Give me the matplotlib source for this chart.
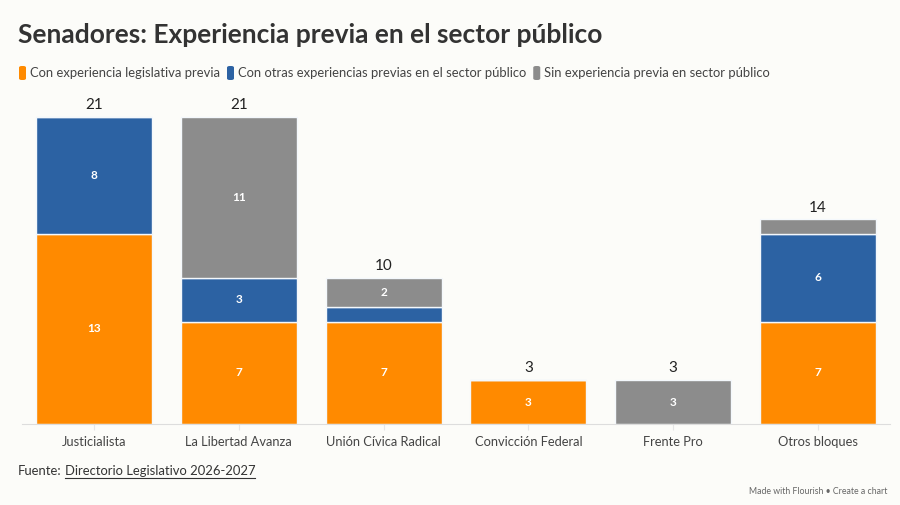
import numpy as np
import matplotlib
matplotlib.use("Agg")
import matplotlib.pyplot as plt
from matplotlib.patches import FancyBboxPatch

plt.rcParams['font.family'] = ['Lato', 'DejaVu Sans']

bloques = ['Justicialista', 'La Libertad Avanza', 'Unión Cívica Radical',
           'Convicción Federal', 'Frente Pro', 'Otros bloques']
legislativa = [13, 7, 7, 3, 0, 7]
otras = [8, 3, 1, 0, 0, 6]
sin_exp = [0, 11, 2, 0, 3, 1]

series = ['Con experiencia legislativa previa',
          'Con otras experiencias previas en el sector público',
          'Sin experiencia previa en sector público']
colores = ['#ff8a00', '#2c62a3', '#8c8c8c']
bg = '#fcfcf9'

fig = plt.figure(figsize=(9, 5.05), dpi=100, facecolor=bg)
ax = fig.add_axes([0.0239, 0.1604, 0.9655, 0.6516])
ax.set_facecolor(bg)

x = np.arange(len(bloques))
bottom = np.zeros(len(bloques))
for vals, col in zip([legislativa, otras, sin_exp], colores):
    vals = np.array(vals)
    ax.bar(x, vals, 0.8, bottom=bottom, color=col, edgecolor='#f4f8fc', linewidth=1)
    for xi, v, b in zip(x, vals, bottom):
        if v >= 2:
            ax.text(xi, b + v / 2, str(v), ha='center', va='center',
                    color='white', fontsize=8.5, fontweight='bold')
    bottom = bottom + vals

for xi, tot in zip(x, bottom):
    ax.text(xi, tot + 0.8, str(int(tot)), ha='center', va='center',
            fontsize=11, color='#222222')

ax.set_xlim(-0.5, len(bloques) - 0.5)
ax.set_ylim(0, 22.5)
ax.set_yticks([])
ax.set_xticks(x)
ax.set_xticklabels(bloques, fontsize=9.3, color='#444444')
ax.tick_params(axis='x', length=4, color='#e6e6e6', pad=5)
for s in ['top', 'right', 'left']:
    ax.spines[s].set_visible(False)
ax.spines['bottom'].set_color('#dddddd')

fig.text(18 / 900, 1 - 35 / 505, 'Senadores: Experiencia previa en el sector público',
         fontsize=19, fontweight='bold', color='#333333', va='center', ha='left')

# leyenda
fig.canvas.draw()
r = fig.canvas.get_renderer()
lx = 19
for lab, col in zip(series, colores):
    fig.patches.append(FancyBboxPatch((lx / 900, 1 - 80 / 505), 7 / 900, 14 / 505,
                                      boxstyle='round,pad=0,rounding_size=0.003',
                                      transform=fig.transFigure, facecolor=col,
                                      edgecolor='none'))
    t = fig.text((lx + 11) / 900, 1 - 73 / 505, lab, fontsize=9.35, color='#444444',
                 va='center', ha='left')
    w = t.get_window_extent(r).width
    lx = lx + 11 + w + 7

f = fig.text(18 / 900, 1 - 471 / 505, 'Fuente:', fontsize=9.4, color='#333333',
             va='center', ha='left')
fx = f.get_window_extent(r).x1 + 3
link = fig.text(fx / 900, 1 - 471 / 505, 'Directorio Legislativo 2026-2027', fontsize=9.4,
                color='#333333', va='center', ha='left')
bb = link.get_window_extent(r)
fig.add_artist(plt.Line2D([bb.x0 / 900, bb.x1 / 900], [(bb.y0 - 1) / 505] * 2,
                          transform=fig.transFigure, color='#333333', linewidth=0.8))

fig.text(887 / 900, 1 - 492 / 505, 'Made with Flourish • Create a chart', fontsize=6.3,
         color='#666666', va='center', ha='right')

fig.savefig('out.png', dpi=100, facecolor=bg)
